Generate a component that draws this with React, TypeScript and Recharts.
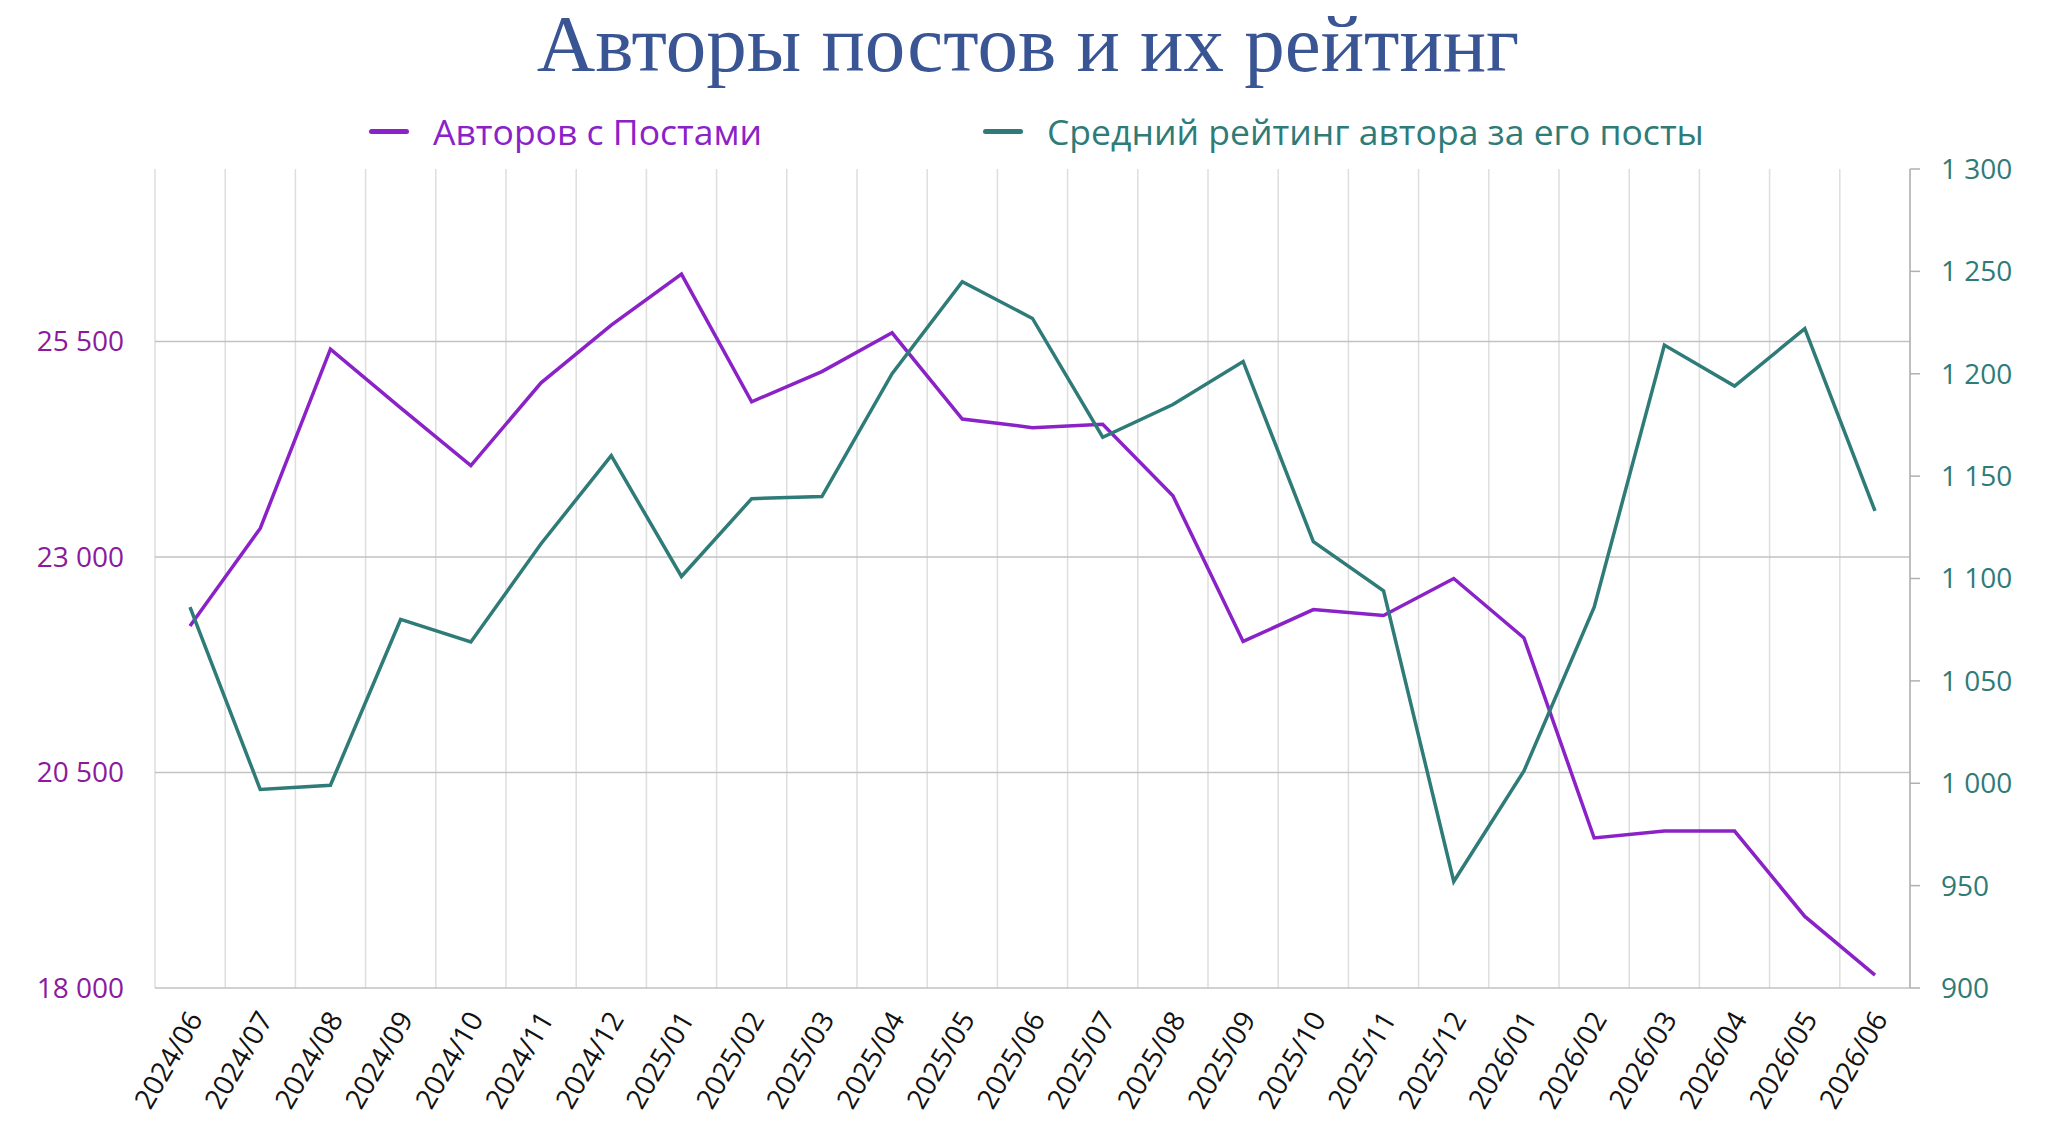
import { LineChart, Line, XAxis, YAxis, CartesianGrid } from "recharts";

const MONTHS = [
  "2024/06", "2024/07", "2024/08", "2024/09", "2024/10", "2024/11", "2024/12",
  "2025/01", "2025/02", "2025/03", "2025/04", "2025/05", "2025/06", "2025/07",
  "2025/08", "2025/09", "2025/10", "2025/11", "2025/12", "2026/01", "2026/02",
  "2026/03", "2026/04", "2026/05", "2026/06",
];

// Авторов с Постами
const AUTHORS = [
  22200, 23330, 25410, 24730, 24060, 25020, 25690, 26280, 24800, 25150, 25600,
  24600, 24500, 24540, 23710, 22020, 22390, 22320, 22750, 22060, 19740, 19820,
  19820, 18830, 18150,
];

// Средний рейтинг автора за его посты
const RATING = [
  1086, 997, 999, 1080, 1069, 1117, 1160, 1101, 1139, 1140, 1200, 1245, 1227,
  1169, 1185, 1206, 1118, 1094, 952, 1006, 1086, 1214, 1194, 1222, 1133,
];

const LEFT_TICKS = [18000, 20500, 23000, 25500];
const RIGHT_TICKS = [900, 950, 1000, 1050, 1100, 1150, 1200, 1250, 1300];

const PURPLE = "#8a22c8";
const PURPLE_TEXT = "#8b1a9e";
const TEAL = "#2e7b78";
const FONT = "'Open Sans', 'Noto Sans', sans-serif";

const data = MONTHS.map((month, i) => ({
  month,
  authors: AUTHORS[i],
  rating: RATING[i],
}));

const fmt = (v: number) => String(v).replace(/\B(?=(\d{3})+(?!\d))/g, " ");

// vertical grid lines sit between months, not under them
const monthBoundaries = ({ offset }: any) =>
  Array.from(
    { length: MONTHS.length + 1 },
    (_, i) => offset.left + (i * offset.width) / MONTHS.length
  );

const MonthTick = ({ x, y, payload }: any) => (
  <text
    x={x + 5}
    y={y}
    dy="0.35em"
    textAnchor="end"
    transform={`rotate(-60 ${x + 5} ${y})`}
    fill="#111"
    fontSize={28}
    fontFamily={FONT}
  >
    {payload.value}
  </text>
);

const LegendItem = ({ left, color, label }: { left: number; color: string; label: string }) => (
  <div
    style={{
      position: "absolute",
      left,
      top: 111,
      height: 40,
      display: "flex",
      alignItems: "center",
      whiteSpace: "nowrap",
    }}
  >
    <div style={{ width: 40, height: 5, borderRadius: 3, background: color, marginRight: 24 }} />
    <span style={{ fontFamily: FONT, fontSize: 35.5, lineHeight: "40px", color }}>{label}</span>
  </div>
);

export default function App() {
  return (
    <div
      style={{
        position: "absolute",
        left: 0,
        top: 0,
        width: 2048,
        height: 1143,
        background: "#fff",
        overflow: "hidden",
      }}
    >
      <div
        style={{
          position: "absolute",
          left: 4,
          top: 4,
          width: 2048,
          textAlign: "center",
          fontFamily: "'Liberation Serif', 'Times New Roman', serif",
          fontSize: 81,
          lineHeight: "81px",
          color: "#3a5594",
        }}
      >
        Авторы постов и их рейтинг
      </div>

      <LegendItem left={369} color={PURPLE} label="Авторов с Постами" />
      <LegendItem left={983} color={TEAL} label="Средний рейтинг автора за его посты" />

      <div style={{ position: "absolute", left: 0, top: 0 }}>
        <LineChart
          width={2048}
          height={1143}
          data={data}
          margin={{ top: 169, right: 0, bottom: 0, left: 0 }}
        >
          <CartesianGrid
            yAxisId="left"
            horizontal={false}
            verticalCoordinatesGenerator={monthBoundaries}
            stroke="#dedede"
            strokeWidth={1.5}
          />
          <CartesianGrid
            yAxisId="left"
            vertical={false}
            horizontalValues={LEFT_TICKS.slice(1)}
            stroke="#c2c2c2"
            strokeWidth={1.5}
          />
          <XAxis
            dataKey="month"
            height={155}
            padding={{ left: 35, right: 35 }}
            interval={0}
            tick={<MonthTick />}
            tickLine={false}
            tickSize={0}
            tickMargin={26}
            axisLine={{ stroke: "#c2c2c2", strokeWidth: 1.5 }}
          />
          <YAxis
            yAxisId="left"
            orientation="left"
            width={155}
            domain={[18000, 27500]}
            ticks={LEFT_TICKS}
            allowDataOverflow
            tickFormatter={fmt}
            tick={{ fill: PURPLE_TEXT, fontSize: 28, fontFamily: FONT }}
            tickLine={false}
            tickSize={0}
            tickMargin={31}
            axisLine={false}
          />
          <YAxis
            yAxisId="right"
            orientation="right"
            width={138}
            domain={[900, 1300]}
            ticks={RIGHT_TICKS}
            allowDataOverflow
            tickFormatter={fmt}
            tick={{ fill: TEAL, fontSize: 28, fontFamily: FONT, textAnchor: "start" }}
            tickLine={{ stroke: "#b0b0b0", strokeWidth: 1.5 }}
            tickSize={10}
            tickMargin={21}
            axisLine={{ stroke: "#b0b0b0", strokeWidth: 1.5 }}
          />
          <Line
            yAxisId="left"
            dataKey="authors"
            type="linear"
            stroke={PURPLE}
            strokeWidth={3.5}
            dot={false}
            isAnimationActive={false}
          />
          <Line
            yAxisId="right"
            dataKey="rating"
            type="linear"
            stroke={TEAL}
            strokeWidth={3.5}
            dot={false}
            isAnimationActive={false}
          />
        </LineChart>
      </div>
    </div>
  );
}
